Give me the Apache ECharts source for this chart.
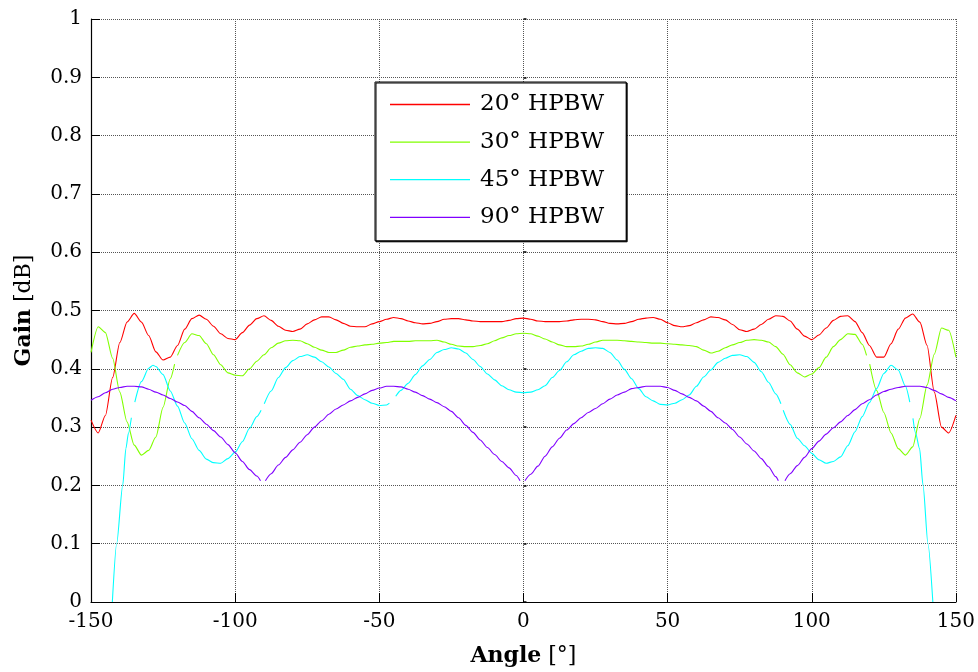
<!DOCTYPE html>
<html>
<head>
<meta charset="utf-8">
<script src="https://cdn.jsdelivr.net/npm/echarts@6/dist/echarts.min.js"></script>
<style>
html,body{margin:0;padding:0;background:#fff;}
#chart{width:978px;height:672px;}
</style>
</head>
<body>
<div id="chart"></div>
<script>
// ---- data ----
const seriesNames = ['20° HPBW', '30° HPBW', '45° HPBW', '90° HPBW'];
const xTicks = [-150, -100, -50, 0, 50, 100, 150];
const yTicks = [0, 0.1, 0.2, 0.3, 0.4, 0.5, 0.6, 0.7, 0.8, 0.9, 1];

const redAngles = [
-150,-147.5,-145,-142.5,-140,-137.5,-135,-132.5,-130,-127.5,
-125,-122.5,-120,-117.5,-115,-112.5,-110,-107.5,-105,-102.5,
-100,-97.5,-95,-92.5,-90,-87.5,-85,-82.5,-80,-77.5,
-75,-72.5,-70,-67.5,-65,-62.5,-60,-57.5,-55,-52.5,
-50,-47.5,-45,-42.5,-40,-37.5,-35,-32.5,-30,-27.5,
-25,-22.5,-20,-17.5,-15,-12.5,-10,-7.5,-5,-2.5,
0,
2.5,5,7.5,10,12.5,15,17.5,20,22.5,25,
27.5,30,32.5,35,37.5,40,42.5,45,47.5,50,
52.5,55,57.5,60,62.5,65,67.5,70,72.5,75,
77.5,80,82.5,85,87.5,90,92.5,95,97.5,100,
102.5,105,107.5,110,112.5,115,117.5,120,122.5,125,
127.5,130,132.5,135,137.5,140,142.5,145,147.5,150
];
const redGain = [
0.312,0.290,0.320,0.385,0.445,0.480,0.495,0.480,0.457,0.429,
0.415,0.420,0.440,0.468,0.486,0.492,0.485,0.473,0.460,0.452,
0.450,0.462,0.475,0.486,0.491,0.483,0.473,0.466,0.464,0.468,
0.477,0.484,0.489,0.489,0.484,0.478,0.473,0.472,0.472,0.477,
0.481,0.485,0.488,0.486,0.482,0.479,0.477,0.478,0.481,0.485,
0.486,0.486,0.484,0.482,0.481,0.481,0.481,0.481,0.483,0.486,
0.487,
0.485,0.482,0.481,0.481,0.481,0.482,0.484,0.485,0.485,0.484,
0.481,0.478,0.477,0.478,0.481,0.485,0.487,0.488,0.485,0.479,
0.474,0.472,0.474,0.479,0.484,0.489,0.488,0.484,0.476,0.467,
0.464,0.468,0.476,0.485,0.491,0.490,0.482,0.468,0.456,0.450,
0.458,0.470,0.483,0.490,0.491,0.481,0.462,0.440,0.420,0.420,
0.443,0.468,0.487,0.494,0.480,0.440,0.360,0.300,0.290,0.320
];

const greenPoints = [
[-150,0.428],[-147.5,0.472],[-145,0.462],[-142.5,0.418],[-140,0.360],[-137.5,0.309],[-135,0.269],[-132.5,0.252],
[-130,0.260],[-127.5,0.283],[-125,0.334],[-122.5,0.383],[-121,0.408],[-120.5,null],[-120,0.423],[-117.5,0.445],
[-115,0.460],[-112.5,0.457],[-110,0.443],[-107.5,0.424],[-105,0.407],[-102.5,0.393],[-100,0.389],[-97.5,0.388],
[-95,0.400],[-92.5,0.413],[-90,0.424],[-87.5,0.436],[-85,0.444],[-82.5,0.448],[-80,0.449],[-77.5,0.448],
[-75,0.443],[-72.5,0.437],[-70,0.432],[-67.5,0.428],[-65,0.428],[-62.5,0.432],[-60,0.437],[-57.5,0.439],
[-55,0.441],[-52.5,0.442],[-50,0.444],[-47.5,0.445],[-45,0.447],[-42.5,0.447],[-40,0.447],[-37.5,0.448],
[-35,0.448],[-32.5,0.448],[-30,0.449],[-27.5,0.446],[-25,0.442],[-22.5,0.439],[-20,0.438],[-17.5,0.438],
[-15,0.440],[-12.5,0.443],[-10,0.448],[-7.5,0.453],[-5,0.457],[-2.5,0.460],[0,0.461],
[2.5,0.460],[5,0.456],[7.5,0.451],[10,0.446],[12.5,0.441],[15,0.438],[17.5,0.438],[20,0.439],
[22.5,0.442],[25,0.446],[27.5,0.449],[30,0.449],[32.5,0.449],[35,0.448],[37.5,0.447],[40,0.446],
[42.5,0.445],[45,0.444],[47.5,0.444],[50,0.443],[52.5,0.442],[55,0.441],[57.5,0.440],[60,0.438],
[62.5,0.432],[65,0.427],[67.5,0.430],[70,0.436],[72.5,0.441],[75,0.445],[77.5,0.449],[80,0.450],
[82.5,0.449],[85,0.446],[87.5,0.438],[90,0.425],[92.5,0.407],[95,0.393],[97.5,0.386],[100,0.391],
[102.5,0.402],[105,0.420],[107.5,0.438],[110,0.450],[112.5,0.460],[115,0.459],[117.5,0.442],[119,0.423],
[119.5,null],[120.1,0.408],[122.5,0.363],[125,0.325],[127.5,0.290],[130,0.263],[132.5,0.252],[135,0.266],
[137.5,0.315],[140,0.372],[142.5,0.425],[145,0.470],[147.5,0.466],[150,0.420]
];

const cyanPoints = [
[-142.6,0],[-141.1,0.1],[-139,0.2],[-137.9,0.263],[-137,0.29],[-136,0.316],[-135.4,null],[-134.8,0.343],
[-132.5,0.378],[-130,0.401],[-128.5,0.406],[-127.5,0.404],[-125,0.390],[-122.5,0.362],[-120,0.336],[-117.5,0.307],
[-115,0.280],[-112.5,0.260],[-110,0.245],[-107.5,0.239],[-105,0.238],[-102.5,0.246],[-100,0.257],[-97.5,0.275],
[-95,0.298],[-92.5,0.318],[-91,0.329],[-90.5,null],[-89.9,0.340],[-87.5,0.362],[-85,0.385],[-82.5,0.402],
[-80,0.414],[-77.5,0.421],[-75,0.424],[-72.5,0.420],[-70,0.412],[-67.5,0.403],[-65,0.392],[-62.5,0.382],
[-60,0.365],[-57.5,0.354],[-55,0.347],[-52.5,0.341],[-50,0.337],[-47.5,0.338],[-46.5,0.341],[-45.3,null],
[-44.3,0.353],[-42.5,0.363],[-40,0.375],[-37.5,0.390],[-35,0.405],[-32.5,0.416],[-30,0.428],[-27.5,0.433],
[-25,0.436],[-22.5,0.434],[-20,0.427],[-17.5,0.416],[-15,0.404],[-12.5,0.391],[-10,0.381],[-7.5,0.371],
[-5,0.364],[-2.5,0.360],[0,0.359],
[2.5,0.360],[5,0.364],[7.5,0.371],[10,0.385],[12.5,0.397],[15,0.412],[17.5,0.424],[20,0.430],
[22.5,0.435],[25,0.436],[27.5,0.435],[30,0.428],[32.5,0.415],[35,0.399],[37.5,0.383],[40,0.366],
[42.5,0.352],[45,0.345],[47.5,0.339],[50,0.338],[52.5,0.341],[55,0.347],[57.5,0.355],[60,0.370],
[62.5,0.386],[65,0.398],[67.5,0.411],[70,0.418],[72.5,0.423],[75,0.424],[77.5,0.421],[80,0.411],
[82.5,0.395],[85,0.377],[87.5,0.357],[89.3,0.340],[89.7,null],[90.1,0.329],[92.5,0.305],[95,0.281],
[97.5,0.268],[100,0.255],[102.5,0.244],[105,0.238],[107.5,0.241],[110,0.249],[112.5,0.268],[115,0.292],
[117.5,0.318],[120,0.342],[122.5,0.366],[125,0.392],[127.5,0.406],[130,0.398],[132.5,0.370],[134,0.343],
[134.6,null],[135.1,0.315],[136,0.29],[137.4,0.263],[138.6,0.2],[140.3,0.1],[142,0]
];

const purplePoints = [
[-150,0.346],[-147.5,0.352],[-145,0.359],[-142.5,0.365],[-140,0.368],[-137.5,0.370],[-135,0.370],[-132.5,0.369],
[-130,0.365],[-127.5,0.360],[-125,0.355],[-122.5,0.349],[-120,0.343],[-117.5,0.337],[-115,0.327],[-112.5,0.316],
[-110,0.305],[-107.5,0.294],[-105,0.283],[-102.5,0.270],[-100,0.256],[-97.5,0.241],[-95,0.227],[-92.5,0.216],
[-91.2,0.208],[-90.3,null],[-89.5,0.208],[-87.5,0.220],[-85,0.235],[-82.5,0.248],[-80,0.261],[-77.5,0.274],
[-75,0.287],[-72.5,0.300],[-70,0.311],[-67.5,0.322],[-65,0.331],[-62.5,0.338],[-60,0.345],[-57.5,0.351],
[-55,0.357],[-52.5,0.363],[-50,0.367],[-47.5,0.370],[-45,0.370],[-42.5,0.369],[-40,0.365],[-37.5,0.360],
[-35,0.354],[-32.5,0.348],[-30,0.342],[-27.5,0.335],[-25,0.327],[-22.5,0.316],[-20,0.303],[-17.5,0.291],
[-15,0.278],[-12.5,0.265],[-10,0.253],[-7.5,0.241],[-5,0.230],[-2.5,0.217],[-1.2,0.208],[-0.4,null],
[0.5,0.208],[2.5,0.219],[5,0.233],[7.5,0.250],[10,0.266],[12.5,0.281],[15,0.295],[17.5,0.306],
[20,0.316],[22.5,0.325],[25,0.332],[27.5,0.340],[30,0.348],[32.5,0.355],[35,0.360],[37.5,0.366],
[40,0.368],[42.5,0.370],[45,0.370],[47.5,0.370],[50,0.368],[52.5,0.363],[55,0.357],[57.5,0.351],
[60,0.345],[62.5,0.336],[65,0.327],[67.5,0.316],[70,0.307],[72.5,0.296],[75,0.283],[77.5,0.271],
[80,0.259],[82.5,0.246],[85,0.232],[87.5,0.215],[88.4,0.208],[89.5,null],[90.7,0.208],[92.5,0.220],
[95,0.234],[97.5,0.248],[100,0.263],[102.5,0.276],[105,0.288],[107.5,0.299],[110,0.309],[112.5,0.320],
[115,0.330],[117.5,0.340],[120,0.347],[122.5,0.355],[125,0.361],[127.5,0.365],[130,0.368],[132.5,0.370],
[135,0.370],[137.5,0.370],[140,0.368],[142.5,0.363],[145,0.357],[147.5,0.351],[150,0.345]
];

const seriesColors = ['#ff0000', '#80ff00', '#00ffff', '#8000ff'];

// ---- chart ----
const FONT = 'DejaVu Serif';
const redPoints = redAngles.map((a, i) => [a, redGain[i]]);
const allPoints = [redPoints, greenPoints, cyanPoints, purplePoints];

const chart = echarts.init(document.getElementById('chart'), null, {renderer: 'canvas'});

const gridLine = {show: true, lineStyle: {color: '#555', type: [1, 1], width: 1}};

const option = {
  animation: false,
  backgroundColor: '#ffffff',
  grid: {left: 91, right: 20, top: 19, bottom: 68, containLabel: false},
  xAxis: [{
    type: 'value', min: xTicks[0], max: xTicks[xTicks.length - 1], interval: 50,
    axisLine: {show: true, onZero: false, lineStyle: {color: '#000', width: 1.2}},
    axisTick: {show: true, inside: true, length: 9, lineStyle: {color: '#000', width: 1}},
    axisLabel: {margin: 10, color: '#000', fontFamily: FONT, fontSize: 20},
    splitLine: gridLine,
    name: '{b|Angle} [°]', nameLocation: 'middle', nameGap: 43,
    nameTextStyle: {color: '#000', fontFamily: FONT, fontSize: 22,
      rich: {b: {fontFamily: FONT, fontSize: 22, fontWeight: 'bold', color: '#000'}}}
  }],
  yAxis: [{
    type: 'value', min: yTicks[0], max: yTicks[yTicks.length - 1], interval: 0.1,
    axisLine: {show: true, onZero: false, lineStyle: {color: '#000', width: 1.2}},
    axisTick: {show: true, inside: true, length: 9, lineStyle: {color: '#000', width: 1}},
    axisLabel: {margin: 9, color: '#000', fontFamily: FONT, fontSize: 20},
    splitLine: gridLine,
    name: '{b|Gain} [dB]', nameLocation: 'middle', nameGap: 56,
    nameTextStyle: {color: '#000', fontFamily: FONT, fontSize: 22,
      rich: {b: {fontFamily: FONT, fontSize: 22, fontWeight: 'bold', color: '#000'}}}
  }, {
    type: 'value', position: 'right', min: 0, max: 1, interval: 0.1,
    axisLine: {show: false},
    axisTick: {show: true, inside: false, length: 3, lineStyle: {color: '#000', width: 1.5}},
    axisLabel: {show: false},
    splitLine: {show: false}
  }],
  legend: {
    orient: 'vertical', left: 375, top: 82,
    padding: [11, 22, 12, 15], itemGap: 14.6, itemWidth: 80, itemHeight: 1.3,
    icon: 'rect',
    backgroundColor: '#ffffff', borderColor: '#000', borderWidth: 1,
    shadowColor: '#000', shadowBlur: 0.01, shadowOffsetX: 1, shadowOffsetY: 1,
    selectedMode: false,
    textStyle: {fontFamily: FONT, fontSize: 23, lineHeight: 23, color: '#000', padding: [0, 0, 0, 5]},
    data: seriesNames
  },
  series: seriesNames.map((name, i) => ({
    name: name, type: 'line', data: allPoints[i],
    showSymbol: false, symbol: 'none', connectNulls: false,
    smooth: 0.25, smoothMonotone: 'x',
    color: seriesColors[i],
    lineStyle: {color: seriesColors[i], width: 1.1},
    clip: true, z: 2 + i
  }))
};
chart.setOption(option);
</script>
</body>
</html>
